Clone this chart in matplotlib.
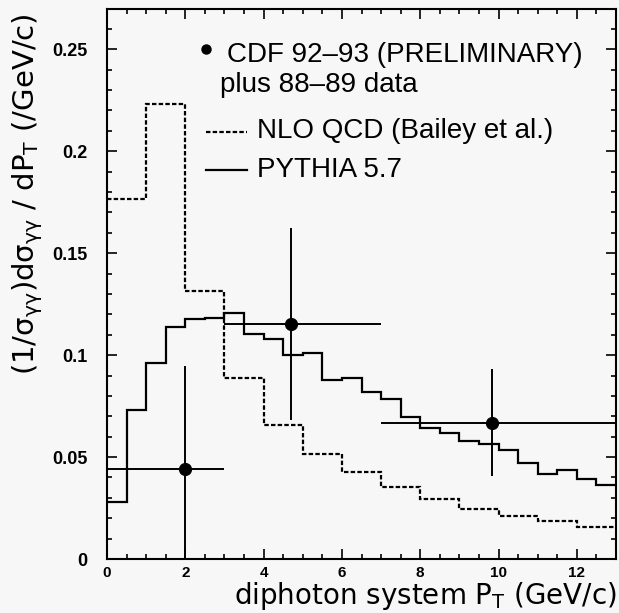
import numpy as np
import matplotlib
matplotlib.use("Agg")
import matplotlib.pyplot as plt
from matplotlib.ticker import MultipleLocator

plt.rcParams['font.family'] = ['Liberation Sans', 'DejaVu Sans']
plt.rcParams['mathtext.fontset'] = 'custom'
plt.rcParams['mathtext.rm'] = 'DejaVu Sans'
plt.rcParams['mathtext.it'] = 'DejaVu Sans'
plt.rcParams['mathtext.bf'] = 'DejaVu Sans:bold'

# ---------------- data ----------------
nlo_edges = np.arange(0, 13.5, 1.0)
nlo_values = [0.1767, 0.2234, 0.1314, 0.0889, 0.0657, 0.0515, 0.0427,
              0.0352, 0.0293, 0.0245, 0.0211, 0.0186, 0.0158]

pythia_edges = np.arange(0, 13.25, 0.5)
pythia_values = [0.0281, 0.0730, 0.0962, 0.1139, 0.1175, 0.1180, 0.1208,
                 0.1104, 0.1078, 0.1001, 0.1009, 0.0878, 0.0890, 0.0817,
                 0.0783, 0.0695, 0.0644, 0.0616, 0.0580, 0.0564, 0.0534,
                 0.0469, 0.0417, 0.0436, 0.0391, 0.0361]

data_x = [2.0, 4.7, 9.83]
data_y = [0.0440, 0.1153, 0.0669]
data_bin_lo = [0.0, 3.0, 7.0]
data_bin_hi = [3.0, 7.0, 13.0]
data_yerr = [0.0507, 0.0470, 0.0264]

x_ticks = [0, 2, 4, 6, 8, 10, 12]
y_ticks = [0, 0.05, 0.1, 0.15, 0.2, 0.25]
y_tick_labels = ['0', '0.05', '0.1', '0.15', '0.2', '0.25']

legend_data = 'CDF 92\u201393 (PRELIMINARY)'
legend_data2 = 'plus 88\u201389 data'
legend_nlo = 'NLO QCD (Bailey et al.)'
legend_pythia = 'PYTHIA 5.7'

# ---------------- figure ----------------
W, H = 619, 613
bg = '#f7f7f7'
fig = plt.figure(figsize=(W / 100, H / 100), dpi=100, facecolor=bg)
L, R, T, B = 107, 616, 8.5, 559
ax = fig.add_axes([L / W, 1 - B / H, (R - L) / W, (B - T) / H], facecolor=bg)

lw = 1.6
ax.stairs(nlo_values, nlo_edges, baseline=None, color='black', lw=lw,
          linestyle=(0, (2, 1)))
ax.stairs(pythia_values, pythia_edges, baseline=None, color='black', lw=lw)

dx = np.array(data_x)
xerr = [dx - np.array(data_bin_lo), np.array(data_bin_hi) - dx]
ax.errorbar(data_x, data_y, xerr=xerr, yerr=data_yerr, fmt='o', color='black',
            ms=8.5, elinewidth=1.4, capsize=0, clip_on=True)

ax.set_xlim(0, 13)
ax.set_ylim(0, 0.27)
ax.set_xticks(x_ticks)
ax.set_xticklabels([str(v) for v in x_ticks], fontweight='bold', fontsize=11)
ax.set_yticks(y_ticks)
ax.set_yticklabels(y_tick_labels, fontweight='bold', fontsize=13)
ax.xaxis.set_minor_locator(MultipleLocator(0.5))
ax.yaxis.set_minor_locator(MultipleLocator(0.01))
ax.tick_params(which='both', direction='in', top=True, right=True, width=1.2,
               color='black')
ax.tick_params(which='major', length=7.5)
ax.tick_params(which='minor', length=3.6)
ax.tick_params(axis='x', which='major', pad=5)
ax.tick_params(axis='y', which='major', pad=14)
for s in ax.spines.values():
    s.set_linewidth(1.5)

# axis labels
ax.set_xlabel(r'diphoton system P$_{\mathrm{T}}$ (GeV/c)', fontsize=20,
              family='DejaVu Sans', ha='right', va='baseline')
ax.xaxis.set_label_coords((617 - L) / (R - L), (B - 604) / (B - T))
ax.set_ylabel(r'$(1/\sigma_{\gamma\gamma})\mathrm{d}\sigma_{\gamma\gamma}$ / dP$_{\mathrm{T}}$ (/GeV/c)',
              fontsize=21, family='DejaVu Sans', rotation=90,
              rotation_mode='default', ha='center', va='center')
ax.yaxis.set_label_coords((28 - L) / (R - L), (B - 194.5) / (B - T))

# legend (drawn manually)
def fx(px):
    return (px - L) / (R - L)

def fy(py):
    return (B - py) / (B - T)

tr = ax.transAxes
fs = 20
ax.plot([fx(206)], [fy(49.3)], 'o', color='black', ms=6.5, transform=tr)
ax.text(fx(226.7), fy(61.7), legend_data, fontsize=fs, transform=tr,
        va='baseline', ha='left')
ax.text(fx(220), fy(91.7), legend_data2, fontsize=fs, transform=tr,
        va='baseline', ha='left')
ax.plot([fx(205.7), fx(246.7)], [fy(131.7), fy(131.7)], color='black', lw=lw,
        linestyle=(0, (2, 1)), transform=tr)
ax.text(fx(256.7), fy(138.3), legend_nlo, fontsize=fs, transform=tr,
        va='baseline', ha='left')
ax.plot([fx(205.7), fx(246.7)], [fy(169.5), fy(169.5)], color='black', lw=lw,
        transform=tr)
ax.text(fx(256.7), fy(176.7), legend_pythia, fontsize=fs, transform=tr,
        va='baseline', ha='left')

fig.savefig('out.png', dpi=100, facecolor=bg)
